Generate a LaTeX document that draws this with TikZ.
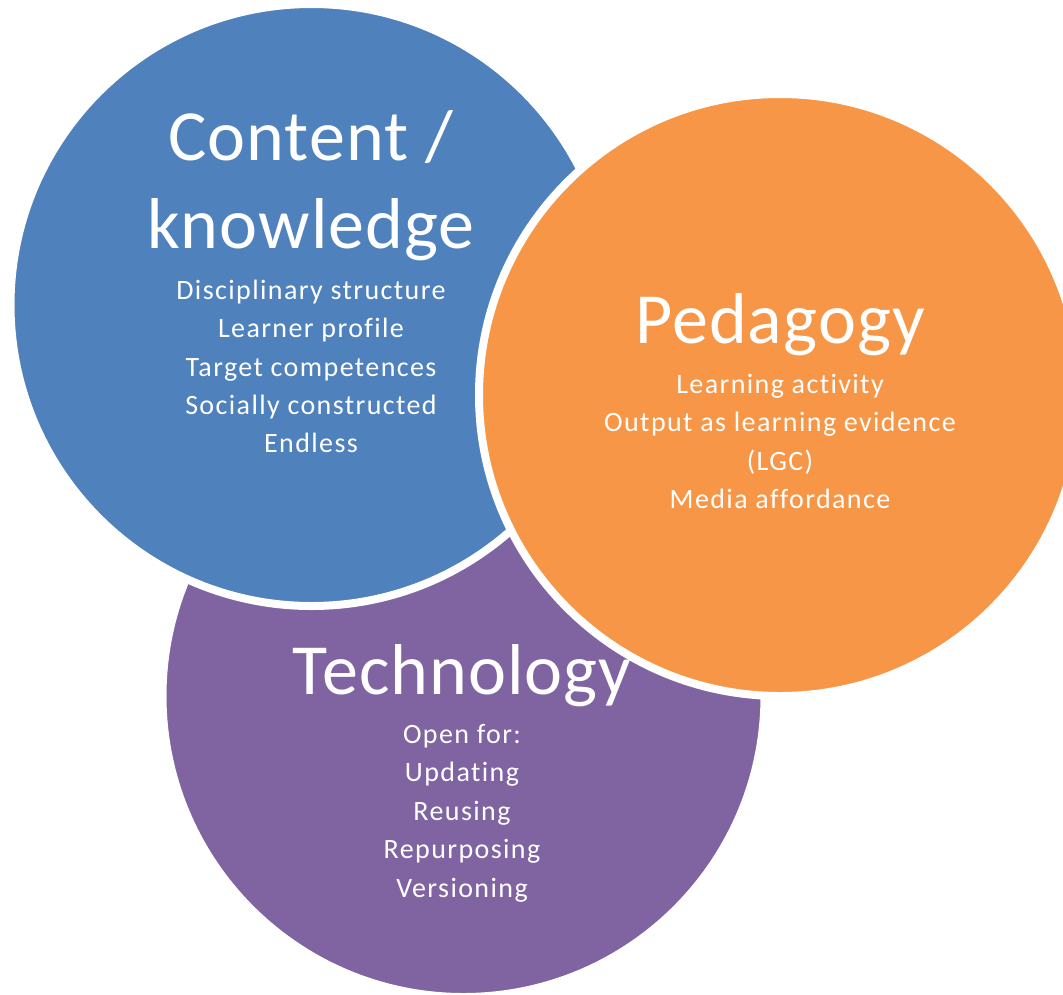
\documentclass[tikz,border=0pt]{standalone}
\usepackage{fontspec}
\setmainfont{Carlito}[Ligatures=CommonOff]
\newfontfamily\titlefont{Carlito}[LetterSpace=1.5,Ligatures=CommonOff]
\newfontfamily\bodyfont{Carlito}[LetterSpace=5,Ligatures=CommonOff]
\definecolor{cblue}{HTML}{4F81BD}
\definecolor{corange}{HTML}{F79646}
\definecolor{cpurple}{HTML}{8064A2}
\begin{document}
\begin{tikzpicture}[x=1pt,y=-1pt,
  disc/.style={draw=white,line width=8pt},
  titletext/.style={anchor=base,inner sep=0pt,text=white,font=\titlefont\fontsize{72}{88}\selectfont},
  bodytext/.style={anchor=base,inner sep=0pt,text=white,font=\bodyfont\fontsize{28}{38}\selectfont}]
\useasboundingbox (0,0) rectangle (1063,994);
% circles
\fill[cpurple,disc] (463.5,696) circle[radius=301];
\fill[cblue,disc] (311.5,305) circle[radius=301];
\fill[corange,disc] (780,395) circle[radius=301];
% Content / knowledge
\node[titletext] (ct1) at (311,160) {Content /};
\node[titletext] (ct2) at (311,248) {knowledge};
\node[bodytext] (cb1) at (311,299) {Disciplinary structure};
\node[bodytext] (cb2) at (311,337.5) {Learner profile};
\node[bodytext] (cb3) at (311,376) {Target competences};
\node[bodytext] (cb4) at (311,414) {Socially constructed};
\node[bodytext] (cb5) at (311,452) {Endless};
% Pedagogy
\node[titletext] (pt1) at (780,343) {Pedagogy};
\node[bodytext] (pb1) at (780,393) {Learning activity};
\node[bodytext] (pb2) at (780,431.5) {Output as learning evidence};
\node[bodytext] (pb3) at (780,470) {(LGC)};
\node[bodytext] (pb4) at (780,508) {Media affordance};
% Technology
\node[titletext] (tt1) at (462,694) {Technology};
\node[bodytext] (tb1) at (462,743) {Open for:};
\node[bodytext] (tb2) at (462,781.5) {Updating};
\node[bodytext] (tb3) at (462,820) {Reusing};
\node[bodytext] (tb4) at (462,858.5) {Repurposing};
\node[bodytext] (tb5) at (462,897) {Versioning};
\end{tikzpicture}
\end{document}
